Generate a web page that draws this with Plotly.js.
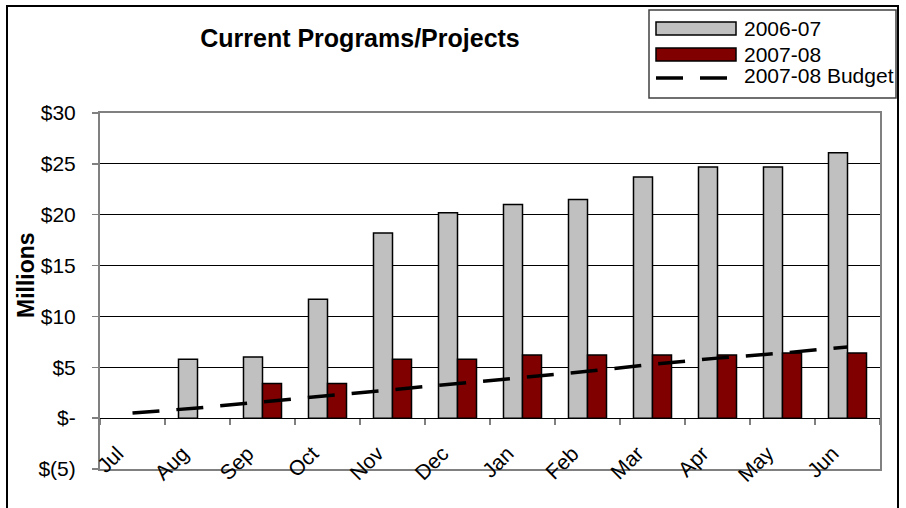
<!DOCTYPE html>
<html>
<head>
<meta charset="utf-8">
<script src="https://cdn.plot.ly/plotly-3.0.1.min.js"></script>
<style>
  html, body { margin: 0; padding: 0; background: #ffffff; }
  #chart { width: 906px; height: 508px; }
</style>
</head>
<body>
<div id="chart"></div>
<script>
// Monthly cumulative spending on current programs/projects, in $ millions
const months = ["Jul", "Aug", "Sep", "Oct", "Nov", "Dec", "Jan", "Feb", "Mar", "Apr", "May", "Jun"];
const fy0607 = [null, 5.8, 6.0, 11.7, 18.2, 20.2, 21.0, 21.5, 23.7, 24.7, 24.7, 26.1];
const fy0708 = [null, null, 3.4, 3.4, 5.8, 5.8, 6.2, 6.2, 6.2, 6.2, 6.4, 6.4];
const budget0708 = [0.5, 1.0, 1.6, 2.2, 2.8, 3.4, 4.0, 4.6, 5.3, 5.9, 6.4, 7.0];

const yTickVals = [-5, 0, 5, 10, 15, 20, 25, 30];
const yTickText = ["$(5)", "$-", "$5", "$10", "$15", "$20", "$25", "$30"];

const seriesNames = ["2006-07", "2007-08", "2007-08 Budget"];

const FONT = "'Liberation Sans', Arial, sans-serif";

// Plot-area geometry (pixels) used to place the frame and the legend box
const W = 906, H = 508;
const M = { l: 100, r: 26, t: 113, b: 39 };
const PW = W - M.l - M.r, PH = H - M.t - M.b;
const px = x => (x - M.l) / PW;
const py = y => (H - M.b - y) / PH;

const yMin = -5, yMax = 30;

const traces = [
  {
    type: "bar", name: seriesNames[0], x: months, y: fy0607,
    xaxis: "x", yaxis: "y",
    marker: { color: "#C0C0C0", line: { color: "#000000", width: 1.5 } },
    hoverinfo: "skip"
  },
  {
    type: "bar", name: seriesNames[1], x: months, y: fy0708,
    xaxis: "x", yaxis: "y",
    marker: { color: "#800000", line: { color: "#000000", width: 1.5 } },
    hoverinfo: "skip"
  },
  {
    type: "scatter", mode: "lines", name: seriesNames[2], x: months, y: budget0708,
    xaxis: "x2", yaxis: "y",
    line: { color: "#000000", width: 3.5, dash: "27px,17px" },
    hoverinfo: "skip"
  }
];

// Hand-built legend: wide swatches as in the original report style
const lg = { x0: 656, x1: 736, tx: 742 };
const shapes = [
  // outer chart frame
  { type: "rect", xref: "paper", yref: "paper",
    x0: px(7), x1: px(898), y0: py(515), y1: py(6),
    line: { color: "#000000", width: 2 }, fillcolor: "rgba(0,0,0,0)" },
  // legend frame
  { type: "rect", xref: "paper", yref: "paper",
    x0: px(649), x1: px(896), y0: py(98), y1: py(10),
    line: { color: "#404040", width: 1.5 }, fillcolor: "#ffffff" },
  { type: "rect", xref: "paper", yref: "paper",
    x0: px(lg.x0), x1: px(lg.x1), y0: py(35), y1: py(22),
    line: { color: "#000000", width: 1.5 }, fillcolor: "#C0C0C0" },
  { type: "rect", xref: "paper", yref: "paper",
    x0: px(lg.x0), x1: px(lg.x1), y0: py(61), y1: py(48),
    line: { color: "#000000", width: 1.5 }, fillcolor: "#800000" },
  { type: "line", xref: "paper", yref: "paper",
    x0: px(lg.x0), x1: px(lg.x1), y0: py(78), y1: py(78),
    line: { color: "#000000", width: 3.5, dash: "27px,17px" } }
];

const legendFont = { family: FONT, size: 21, color: "#000000" };
const annotations = [
  { text: seriesNames[0], xref: "paper", yref: "paper", x: px(lg.tx), y: py(28.5),
    xanchor: "left", yanchor: "middle", showarrow: false, font: legendFont },
  { text: seriesNames[1], xref: "paper", yref: "paper", x: px(lg.tx), y: py(54),
    xanchor: "left", yanchor: "middle", showarrow: false, font: legendFont },
  { text: seriesNames[2], xref: "paper", yref: "paper", x: px(lg.tx), y: py(76),
    xanchor: "left", yanchor: "middle", showarrow: false, font: legendFont },
  // y-axis caption
  { text: "Millions", xref: "paper", yref: "paper", x: px(26), y: py(275),
    xanchor: "center", yanchor: "middle", textangle: -90, showarrow: false,
    font: { family: FONT, size: 23, color: "#000000", weight: 700 } }
];

const layout = {
  width: W, height: H,
  margin: M,
  paper_bgcolor: "#ffffff",
  plot_bgcolor: "#ffffff",
  showlegend: false,
  barmode: "group",
  bargap: 0.415,
  bargroupgap: 0,
  title: {
    text: "Current Programs/Projects",
    xref: "container", yref: "container",
    x: 360 / W, y: 1 - 38 / H, xanchor: "center", yanchor: "middle",
    font: { family: FONT, size: 25, color: "#000000", weight: 700 }
  },
  font: { family: FONT, color: "#000000" },
  // category axis along the bottom: carries only the rotated month labels
  xaxis: {
    type: "category", categoryorder: "array", categoryarray: months,
    range: [-0.5, months.length - 0.5],
    showgrid: false, zeroline: false,
    showline: true, linecolor: "#808080", linewidth: 2, mirror: true,
    ticks: "", tickangle: -45,
    ticklabelstandoff: -38, ticklabelshift: -15,
    tickfont: { family: FONT, size: 21, color: "#000000" }
  },
  // category axis crossing at zero, with boundary tick marks
  xaxis2: {
    type: "category", categoryorder: "array", categoryarray: months,
    range: [-0.5, months.length - 0.5],
    overlaying: "x", anchor: "free", position: (0 - yMin) / (yMax - yMin),
    showgrid: false, zeroline: false,
    showline: true, linecolor: "#000000", linewidth: 1.2,
    ticks: "outside", ticklen: 6, tickwidth: 1.5, tickcolor: "#808080",
    tickson: "boundaries", showticklabels: false
  },
  yaxis: {
    range: [yMin, yMax],
    tickvals: yTickVals, ticktext: yTickText,
    showgrid: true, gridcolor: "#000000", gridwidth: 1,
    zeroline: false,
    showline: true, linecolor: "#808080", linewidth: 2, mirror: true,
    ticks: "outside", ticklen: 6, tickwidth: 1.5, tickcolor: "#808080",
    ticklabelstandoff: 12,
    tickfont: { family: FONT, size: 21, color: "#000000" }
  },
  shapes: shapes,
  annotations: annotations
};

Plotly.newPlot("chart", traces, layout, { staticPlot: true, displayModeBar: false });
</script>
</body>
</html>
